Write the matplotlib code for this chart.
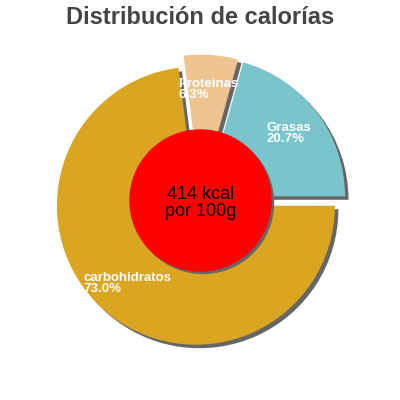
import matplotlib
matplotlib.use("Agg")
import matplotlib.pyplot as plt
from matplotlib.patches import Circle

categories = ["Grasas", "Proteinas", "carbohidratos"]
values = [20.7, 6.3, 73.0]
colors = ["#7AC4CC", "#EEC591", "#DAA520"]
title = "Distribución de calorías"
center_text = "414 kcal\npor 100g"

plt.rcParams['font.family'] = ['Liberation Sans', 'DejaVu Sans']

fig = plt.figure(figsize=(4, 4), dpi=100)
ax = fig.add_axes([0, 0, 1, 1])
R = 139.0
px = 1.0 / R
explode = [0.05] * len(values)
sh = (3.5 * px, -3.5 * px)

# shadow
ax.pie(values, startangle=0, counterclock=True, explode=explode,
       colors=["#666666"] * len(values), radius=1.0, center=sh,
       wedgeprops=dict(linewidth=0))
wedges, texts = ax.pie(values, startangle=0, counterclock=True, explode=explode,
                       colors=colors, radius=1.0,
                       labels=[f"{c}\n{v:.1f}%" for c, v in zip(categories, values)],
                       labeldistance=0.75,
                       textprops=dict(color="white", fontsize=9.5, fontweight="bold",
                                      ha="center", va="center", multialignment="left",
                                      linespacing=0.9),
                       wedgeprops=dict(linewidth=0))
for t in texts:
    t.set_ha("center")

ax.add_patch(Circle((sh[0] * 0.7, sh[1] * 0.7), 70.5 * px, color="#666666", zorder=3))
ax.add_patch(Circle((0, 0), 70.5 * px, color="#FF0000", zorder=4))
ax.text(0, -2.5 * px, center_text, ha="center", va="center", fontsize=13,
        color="black", zorder=5, linespacing=0.95)

ax.set_xlim(-200.5 * px, 199.5 * px)
ax.set_ylim(-199.5 * px, 200.5 * px)
ax.set_aspect("equal")
ax.axis("off")

fig.text(0.5, 1 - 18 / 400, title, ha="center", va="center", fontsize=17,
         fontweight="bold", color="#444444")

fig.savefig("out.png", dpi=100)
